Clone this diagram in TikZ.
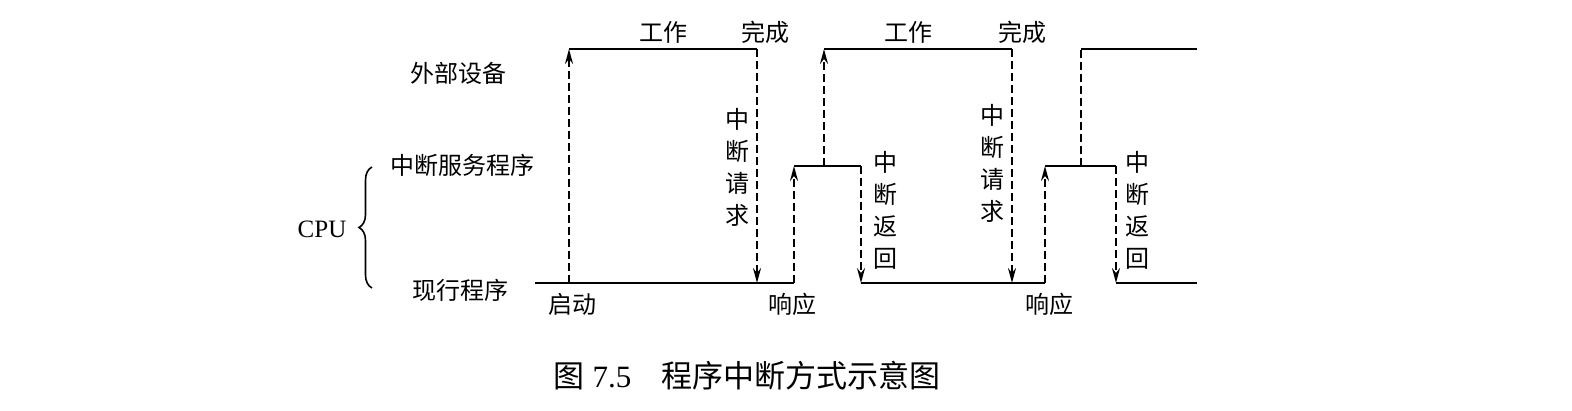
\documentclass[tikz,border=0pt]{standalone}
\usepackage{fontspec}
\setmainfont{Liberation Serif}
\newfontfamily\cjk{Noto Sans CJK SC}
\usetikzlibrary{arrows.meta,decorations.pathreplacing}
\begin{document}
\begin{tikzpicture}[x=1pt,y=-1pt,
  lab/.style={font=\cjk\fontsize{24}{30}\selectfont, inner sep=0pt},
  vlab/.style={inner sep=0pt, align=center, font=\cjk\fontsize{24}{32}\selectfont},
  sig/.style={line width=2pt},
  dsh/.style={line width=2pt, dash pattern=on 8pt off 4pt},
  arr/.style={dsh, -{Stealth[length=15pt,width=8pt,inset=5pt]}}]
\useasboundingbox (0,0) rectangle (1572,410);
% levels: top 49, mid 166, bottom 283
\coordinate (t1a) at (569,49);  \coordinate (t1b) at (757,49);
\coordinate (t2a) at (824,49);  \coordinate (t2b) at (1012,49);
\coordinate (t3a) at (1081,49); \coordinate (t3b) at (1197,49);
\coordinate (m1a) at (794,166); \coordinate (m1b) at (861,166);
\coordinate (m2a) at (1045,166);\coordinate (m2b) at (1116,166);
\coordinate (b0) at (535,283);  \coordinate (s1) at (569,283);
\coordinate (r1) at (757,283);  \coordinate (b1) at (794,283);
\coordinate (b2) at (861,283);  \coordinate (r2) at (1012,283);
\coordinate (b3) at (1045,283); \coordinate (b4) at (1116,283);
\coordinate (b5) at (1197,283);
\coordinate (u1) at (824,166);  \coordinate (u2) at (1081,166);
% solid signal lines
\draw[sig] (t1a) -- (t1b);
\draw[sig] (t2a) -- (t2b);
\draw[sig] (t3a) -- (t3b);
\draw[sig] (m1a) -- (m1b);
\draw[sig] (m2a) -- (m2b);
\draw[sig] (b0) -- (b1);
\draw[sig] (b2) -- (b3);
\draw[sig] (b4) -- (b5);
% dashed transitions
\draw[arr] (s1) -- (t1a);
\draw[arr] (t1b) -- (r1);
\draw[arr] (b1) -- (m1a);
\draw[arr] (u1) -- (t2a);
\draw[arr] (m1b) -- (b2);
\draw[arr] (t2b) -- (r2);
\draw[arr] (b3) -- (m2a);
\draw[dsh] (u2) -- (t3a);
\draw[arr] (m2b) -- (b4);
% labels
\node[lab] (w1) at (663,32) {工作};
\node[lab] (c1) at (765,32) {完成};
\node[lab] (w2) at (908,32) {工作};
\node[lab] (c2) at (1022,32) {完成};
\node[lab] (dev) at (458,73) {外部设备};
\node[lab] (isr) at (462,165) {中断服务程序};
\node[lab] (cur) at (460,290) {现行程序};
\node[inner sep=0pt, font=\fontsize{25}{30}\selectfont] (cpu) at (322,229) {CPU};
\node[lab] (qd) at (572,304) {启动};
\node[lab] (xy1) at (792,304) {响应};
\node[lab] (xy2) at (1049,304) {响应};
\node[vlab] (rq1) at (737,167) {中\\断\\请\\求};
\node[vlab] (rt1) at (885,210) {中\\断\\返\\回};
\node[vlab] (rq2) at (992,163) {中\\断\\请\\求};
\node[vlab] (rt2) at (1137,210) {中\\断\\返\\回};
% brace
\coordinate (brb) at (372,288);
\coordinate (brt) at (372,167);
\draw[line width=1.6pt, decorate, decoration={brace, amplitude=13pt}] (brb) -- (brt);
% caption
\node[inner sep=0pt, font=\fontsize{31}{36}\selectfont] (cap) at (747,376)
  {{\cjk 图}\hspace{8pt}7.5\hspace{30pt}{\cjk 程序中断方式示意图}};
\end{tikzpicture}
\end{document}
